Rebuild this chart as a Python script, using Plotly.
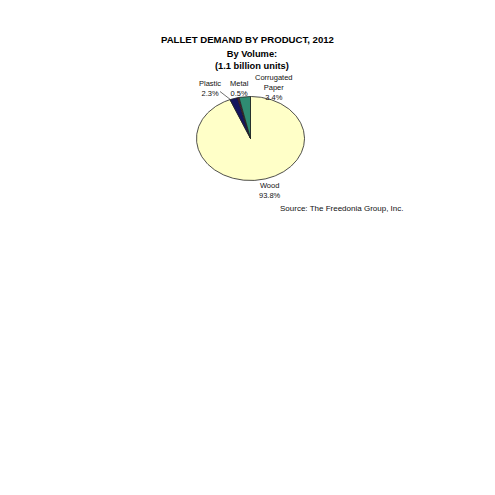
import numpy as np
import plotly.graph_objects as go

# ---- data ----
categories = ["Wood", "Plastic", "Metal", "Corrugated Paper"]
shares = [93.8, 2.3, 0.5, 3.4]          # percent of volume, clockwise from 12 o'clock
label_texts = ["Wood<br>93.8%", "Plastic<br>2.3%", "Metal<br>0.5%", "Corrugated<br>Paper<br>3.4%"]
colors = ["#FFFFC8", "#14145E", "#6E1030", "#2F8C72"]

title_text = "PALLET DEMAND BY PRODUCT, 2012"
subtitle_text = "By Volume:<br>(1.1 billion units)"
source_text = "Source: The Freedonia Group, Inc."

# ---- layout geometry (screen pixel space; page has an 8px body margin) ----
W = H = 495
OFF = 8
CX, CY = 250.5, 138.5
RX, RY = 54, 42
FONT = "Liberation Sans, Arial, sans-serif"

fig = go.Figure()

total = float(sum(shares))
start = 0.0
for cat, val, col in zip(categories, shares, colors):
    a0 = start / total * 2 * np.pi
    a1 = (start + val) / total * 2 * np.pi
    t = np.linspace(a0, a1, max(3, int(val * 4)))
    xs = np.concatenate([[CX], CX + RX * np.sin(t), [CX]])
    ys = np.concatenate([[CY], CY - RY * np.cos(t), [CY]])
    fig.add_trace(go.Scatter(
        x=xs, y=ys, mode="lines", fill="toself", fillcolor=col,
        line=dict(color="#222222", width=0.8), name=cat,
        hoverinfo="name", showlegend=False,
    ))
    start += val

# centre positions of each category label block
label_pos = {
    "Wood": (270, 190.3),
    "Plastic": (210, 88.5),
    "Metal": (239, 88.5),
    "Corrugated Paper": (274, 87.0),
}
for cat, txt in zip(categories, label_texts):
    x, y = label_pos[cat]
    fig.add_annotation(x=x, y=y, xref="x", yref="y", text=txt, showarrow=False,
                       font=dict(family=FONT, size=7.5, color="#111111"),
                       xanchor="center", yanchor="middle", align="center", borderpad=0)

# leader line for Plastic
fig.add_shape(type="line", x0=220, y0=91.5, x1=231, y1=100, xref="x", yref="y",
              line=dict(color="#333333", width=0.7))

fig.add_annotation(x=247.5, y=39, xref="x", yref="y", text="<b>" + title_text + "</b>", showarrow=False,
                   font=dict(family=FONT, size=9.6, color="#000000"),
                   xanchor="center", yanchor="middle")
fig.add_annotation(x=252, y=60.2, xref="x", yref="y", text="<b>" + subtitle_text + "</b>", showarrow=False,
                   font=dict(family=FONT, size=9.3, color="#000000"),
                   xanchor="center", yanchor="middle", align="center", borderpad=0)
fig.add_annotation(x=405, y=208, xref="x", yref="y", text=source_text, showarrow=False,
                   font=dict(family=FONT, size=8, color="#111111"),
                   xanchor="right", yanchor="middle")

fig.update_layout(
    width=W, height=H,
    margin=dict(l=0, r=0, t=0, b=0),
    paper_bgcolor="white", plot_bgcolor="white",
    xaxis=dict(range=[OFF, W + OFF], visible=False, fixedrange=True),
    yaxis=dict(range=[H + OFF, OFF], visible=False, fixedrange=True),
    showlegend=False,
)

fig.write_html("out.html")
